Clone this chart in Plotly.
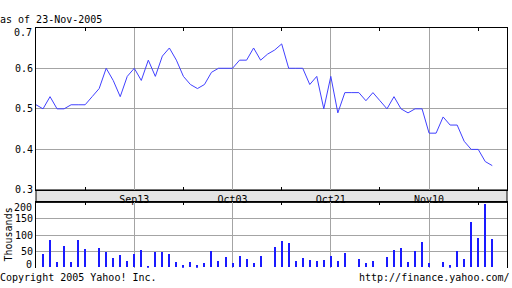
import plotly.graph_objects as go
import pandas as pd

# ---- data ----
dates = [d for d in pd.bdate_range("2005-08-23", "2005-11-23") if d != pd.Timestamp("2005-09-05")]

price = [0.51, 0.50, 0.53, 0.50, 0.50, 0.51, 0.51, 0.51, 0.53, 0.55,
         0.60, 0.57, 0.53, 0.58, 0.60, 0.57, 0.62, 0.58, 0.63, 0.65,
         0.62, 0.58, 0.56, 0.55, 0.56, 0.59, 0.60, 0.60, 0.60, 0.62,
         0.62, 0.65, 0.62, 0.635, 0.645, 0.66, 0.60, 0.60, 0.60, 0.56,
         0.58, 0.50, 0.58, 0.49, 0.54, 0.54, 0.54, 0.52, 0.54, 0.52,
         0.50, 0.53, 0.50, 0.49, 0.50, 0.50, 0.44, 0.44, 0.48, 0.46,
         0.46, 0.42, 0.40, 0.40, 0.37, 0.36]

volume_k = [0, 40, 85, 18, 66, 18, 85, 57, 0, 60,
            48, 30, 39, 21, 42, 54, 3, 48, 48, 42,
            18, 6, 18, 6, 12, 51, 21, 33, 12, 36,
            27, 12, 36, 0, 63, 81, 75, 21, 30, 24,
            21, 24, 36, 21, 45, 0, 27, 15, 21, 0,
            33, 54, 60, 18, 51, 78, 12, 0, 18, 6,
            51, 27, 138, 90, 195, 87]

tick_dates = ["2005-09-13", "2005-10-03", "2005-10-21", "2005-11-10"]
tick_labels = ["Sep13", "Oct03", "Oct21", "Nov10"]
price_ticks = [0.3, 0.4, 0.5, 0.6, 0.7]
price_tick_labels = ["0.3", "0.4", "0.5", "0.6", ""]      # "0.7" placed below the frame top
vol_ticks = [0, 50, 100, 150, 200]
vol_tick_labels = ["", "50", "100", "150", ""]            # "0" / "200" nudged inside the panel

# ---- build ----
W, H = 512, 288
x = list(range(len(dates)))
tick_pos = [dates.index(pd.Timestamp(t)) for t in tick_dates]
step = tick_pos[1] - tick_pos[0]
minor_pos = [p - step // 2 for p in tick_pos] + [tick_pos[-1] + step // 2]


def py(y):
    return 1 - y / H


XDOM = [36 / W, 507 / W]
XRANGE = [0, 67.1]
GRID = "#a4a4a4"
FONT = "DejaVu Sans Mono"

fig = go.Figure()
fig.add_trace(go.Scatter(x=x, y=price, mode="lines",
                         line=dict(color="#4040ff", width=1),
                         xaxis="x", yaxis="y", hoverinfo="skip"))
fig.add_trace(go.Bar(x=x, y=volume_k, width=0.15,
                     marker=dict(color="#1a1aff", line=dict(width=0)),
                     xaxis="x2", yaxis="y2", hoverinfo="skip"))

fig.update_layout(
    width=W, height=H, margin=dict(l=0, r=0, t=0, b=0, pad=0),
    paper_bgcolor="white", plot_bgcolor="white", showlegend=False,
    font=dict(family=FONT, size=10, color="black"),
    xaxis=dict(domain=XDOM, range=XRANGE, anchor="y",
               tickmode="array", tickvals=tick_pos, ticktext=tick_labels,
               showgrid=True, gridcolor=GRID, gridwidth=1, zeroline=False,
               showline=True, linecolor="black", linewidth=1, mirror="ticks",
               ticks="inside", ticklen=0, tickcolor="black",
               minor=dict(tickvals=minor_pos, ticks="inside", ticklen=3,
                          tickcolor="black", showgrid=False),
               tickfont=dict(family=FONT, size=10), fixedrange=True),
    yaxis=dict(domain=[py(194), py(28.3)], range=[0.3, 0.7], anchor="x",
               tickmode="array", tickvals=price_ticks, ticktext=price_tick_labels,
               showgrid=True, gridcolor=GRID, gridwidth=1, zeroline=False,
               showline=True, linecolor="black", linewidth=1, mirror=True,
               ticks="", tickfont=dict(family=FONT, size=10), fixedrange=True),
    xaxis2=dict(domain=XDOM, range=XRANGE, anchor="y2", side="top",
                tickmode="array", tickvals=tick_pos, showticklabels=False,
                showgrid=True, gridcolor=GRID, gridwidth=1, zeroline=False,
                showline=True, linecolor="black", linewidth=1,
                ticks="inside", ticklen=0, tickcolor="black",
                minor=dict(tickvals=minor_pos, ticks="inside", ticklen=3,
                           tickcolor="black", showgrid=False),
                fixedrange=True),
    yaxis2=dict(domain=[py(273.5), py(206.7)], range=[0, 200], anchor="x2",
                tickmode="array", tickvals=vol_ticks, ticktext=vol_tick_labels,
                showgrid=True, gridcolor=GRID, gridwidth=1, zeroline=False,
                showline=True, linecolor="black", linewidth=1, mirror=True,
                ticks="", tickfont=dict(family=FONT, size=10), fixedrange=True),
    bargap=0,
)

# date label band between the two panels
fig.add_shape(type="rect", xref="paper", yref="paper",
              x0=XDOM[0], x1=XDOM[1], y0=py(206.7), y1=py(194),
              fillcolor="#e4e4e4", line=dict(color="black", width=1), layer="below")

ann = dict(xref="paper", yref="paper", showarrow=False,
           font=dict(family=FONT, size=10, color="black"))
fig.add_annotation(text="as of 23-Nov-2005", x=-2 / W, y=py(20),
                   xanchor="left", yanchor="middle", **ann)
fig.add_annotation(text="0.7", x=34 / W, y=py(33.5),
                   xanchor="right", yanchor="middle", **ann)
fig.add_annotation(text="200", x=34 / W, y=py(212),
                   xanchor="right", yanchor="middle", **ann)
fig.add_annotation(text="0", x=34 / W, y=py(270.5),
                   xanchor="right", yanchor="middle", **ann)
fig.add_annotation(text="Thousands", x=7.5 / W, y=py(240), textangle=-90,
                   xanchor="center", yanchor="middle", **ann)
fig.add_annotation(text="Copyright 2005 Yahoo! Inc.", x=-2 / W, y=py(283),
                   xanchor="left", yanchor="middle", **ann)
fig.add_annotation(text="http://finance.yahoo.com/", x=512 / W, y=py(283),
                   xanchor="right", yanchor="middle", **ann)

fig.write_html("out.html")
